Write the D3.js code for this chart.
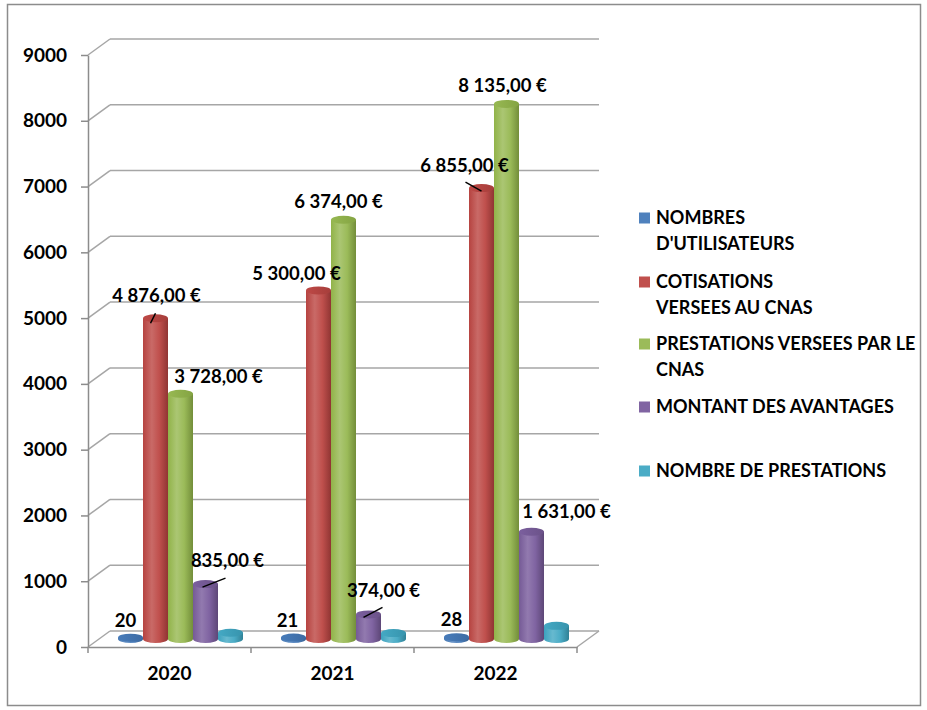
<!DOCTYPE html>
<html lang="fr">
<head>
<meta charset="utf-8">
<title>CNAS 2020-2022</title>
<style>
body{
  margin: 0;
  background: #fff;
}
svg text{
  font-family: Lato, "Open Sans", sans-serif;
  font-weight: bold;
  fill: #000;
}
.axis path, .axis line{
  fill: none;
  stroke: #8c8c8c;
  stroke-width: 1.5;
}
.axis text{
  font-size: 19px;
}
.grid line{
  stroke: #a6a6a6;
  stroke-width: 1.5;
}
</style>
</head>
<body>
<div id="chart"></div>
<script src="https://cdn.jsdelivr.net/npm/d3@7"></script>
<script>
// data
var years = ["2020", "2021", "2022"];
var seriesNames = [
  ["NOMBRES", "D'UTILISATEURS"],
  ["COTISATIONS", "VERSEES AU CNAS"],
  ["PRESTATIONS VERSEES PAR LE", "CNAS"],
  ["MONTANT DES AVANTAGES"],
  ["NOMBRE DE PRESTATIONS"]
];
var nbUtilisateurs = [20, 21, 28];
var cotisations = [4876, 5300, 6855];
var prestationsVersees = [3728, 6374, 8135];
var montantAvantages = [835, 374, 1631];
var nbPrestations = [95, 90, 200];
var yTicks = [0, 1000, 2000, 3000, 4000, 5000, 6000, 7000, 8000, 9000];

var series = [nbUtilisateurs, cotisations, prestationsVersees, montantAvantages, nbPrestations];
var colors = ["#4f81bd", "#c0504d", "#9bbb59", "#8064a2", "#4bacc6"];
var labelled = [true, true, true, true, false];

// where Excel put the labels, relative to the top of each bar (series x year)
var labelNudge = [
  [[-5, -11], [-6, -11], [-5, -11]],
  [[1, -16], [-22, -10], [-17, -16]],
  [[38, -11], [-5, -12], [-4, -12]],
  [[22, -17], [15, -17], [35, -14]],
  [null, null, null]
];
var leaders = [
  [null, null, null],
  [[-5, 5, 0, -5], null, [0, 3, -16, -6]],
  [null, null, null],
  [[-3, 3, 20, -6], [-5, 3, 14, -7], null],
  [null, null, null]
];

var fmt = function(v, i) {
  if (i === 0) return String(v);
  var s = d3.format(",.2f")(v).replace(/,/g, " ").replace(".", ",");
  return s + " €";
};

var W = 927, H = 710;
var depthX = 22, depthY = -16;
var svg = d3.select("#chart").append("svg")
  .attr("width", W)
  .attr("height", H);

svg.append("rect")
  .attr("x", 7.5).attr("y", 4.5)
  .attr("width", 913).attr("height", 701)
  .attr("fill", "none")
  .attr("stroke", "#8c8c8c")
  .attr("stroke-width", 1.5);

var x = d3.scaleBand().domain(years).range([88, 577]);
var y = d3.scaleLinear().domain([0, 9000]).range([647, 55]);
var inner = d3.scaleBand().domain(d3.range(series.length)).range([0, 125]);

// back wall + side wall grid
var grid = svg.append("g").attr("class", "grid");
grid.selectAll(".back").data(yTicks.slice(1)).enter().append("line")
  .attr("x1", 88 + depthX).attr("x2", 577 + depthX)
  .attr("y1", (d) => y(d) + depthY).attr("y2", (d) => y(d) + depthY);
grid.selectAll(".side").data(yTicks).enter().append("line")
  .attr("x1", 88).attr("x2", 88 + depthX)
  .attr("y1", (d) => y(d)).attr("y2", (d) => y(d) + depthY);

// floor
var floor = svg.append("g").attr("class", "grid");
floor.append("line")
  .attr("x1", 88 + depthX).attr("x2", 577 + depthX)
  .attr("y1", y(0) + depthY).attr("y2", y(0) + depthY);
floor.append("line")
  .attr("x1", 577).attr("x2", 577 + depthX)
  .attr("y1", y(0)).attr("y2", y(0) + depthY);

// y axis
svg.append("g").attr("class", "axis")
  .attr("transform", "translate(88,0)")
  .call(d3.axisLeft(y).tickValues(yTicks).tickSize(7).tickSizeOuter(0).tickPadding(14).tickFormat(d3.format("d")));

// x axis, ticks sit between the categories
var xAxis = svg.append("g").attr("class", "axis")
  .attr("transform", `translate(0, ${y(0)})`)
  .call(d3.axisBottom(x).tickSize(0).tickPadding(20));
xAxis.selectAll(".edge").data(d3.range(years.length + 1)).enter().append("line")
  .attr("x1", (i) => 88 + i * x.step()).attr("x2", (i) => 88 + i * x.step())
  .attr("y1", 0).attr("y2", 6);

// gradients for the cylinders
var defs = svg.append("defs");
colors.forEach(function(c, i) {
  var base = d3.hsl(c);
  var g = defs.append("linearGradient").attr("id", "cyl" + i)
    .attr("x1", "0%").attr("x2", "100%");
  g.append("stop").attr("offset", "0%").attr("stop-color", base.darker(0.25));
  g.append("stop").attr("offset", "35%").attr("stop-color", base.brighter(0.35));
  g.append("stop").attr("offset", "65%").attr("stop-color", base);
  g.append("stop").attr("offset", "100%").attr("stop-color", base.darker(0.9));
  var t = defs.append("linearGradient").attr("id", "top" + i)
    .attr("x1", "0%").attr("x2", "100%");
  t.append("stop").attr("offset", "0%").attr("stop-color", base.darker(0.1));
  t.append("stop").attr("offset", "100%").attr("stop-color", base.darker(0.5));
});

var bw = inner.bandwidth();
var rx = bw / 2, ry = 4;
var bars = [];
years.forEach(function(yr, j) {
  var gx = x(yr) + x.bandwidth() / 2 + depthX / 2 - 62.5;
  series.forEach(function(vals, i) {
    bars.push({
      i: i, j: j, v: vals[j],
      x0: gx + inner(i),
      cx: gx + inner(i) + rx,
      top: y(vals[j]) + depthY / 2,
      base: y(0) + depthY / 2
    });
  });
});

var cyl = svg.append("g").selectAll("g").data(bars).enter().append("g");
cyl.append("path")
  .attr("d", (d) => `M${d.x0},${d.top} L${d.x0},${d.base} A${rx},${ry} 0 0 0 ${d.x0 + bw},${d.base} L${d.x0 + bw},${d.top} Z`)
  .attr("fill", (d) => `url(#cyl${d.i})`);
cyl.append("ellipse")
  .attr("cx", (d) => d.cx).attr("cy", (d) => d.top)
  .attr("rx", rx).attr("ry", ry)
  .attr("fill", (d) => `url(#top${d.i})`);

// data labels
var lab = bars.filter((d) => labelled[d.i]);
svg.append("g").selectAll("line").data(lab.filter((d) => leaders[d.i][d.j])).enter().append("line")
  .attr("x1", (d) => d.cx + leaders[d.i][d.j][0])
  .attr("y1", (d) => d.top + leaders[d.i][d.j][1])
  .attr("x2", (d) => d.cx + leaders[d.i][d.j][2])
  .attr("y2", (d) => d.top + leaders[d.i][d.j][3])
  .attr("stroke", "#000").attr("stroke-width", 1.5);
svg.append("g").selectAll("text").data(lab).enter().append("text")
  .attr("x", (d) => d.cx + labelNudge[d.i][d.j][0])
  .attr("y", (d) => d.top + labelNudge[d.i][d.j][1])
  .attr("text-anchor", "middle")
  .style("font-size", "18.5px")
  .text((d) => fmt(d.v, d.i));

// legend
var legendTop = [218, 282, 344, 407, 471];
var leg = svg.append("g").selectAll("g").data(seriesNames).enter().append("g")
  .attr("transform", (d, i) => `translate(639, ${legendTop[i]})`);
leg.append("rect")
  .attr("x", 0).attr("y", -5.5)
  .attr("width", 11).attr("height", 11)
  .attr("fill", (d, i) => colors[i]);
leg.each(function(d) {
  d3.select(this).selectAll("text").data(d).enter().append("text")
    .attr("x", 17)
    .attr("y", (t, k) => 6 + k * 26)
    .style("font-size", "18px")
    .text((t) => t);
});
</script>
</body>
</html>
